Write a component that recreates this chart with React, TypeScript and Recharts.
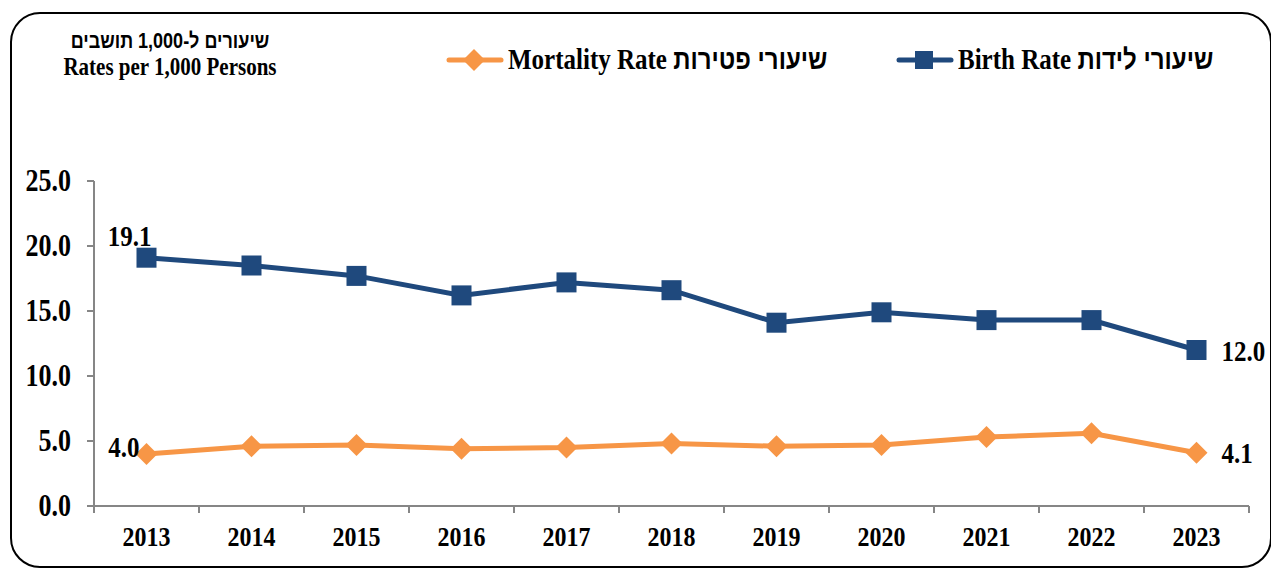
import React from 'react';
import { LineChart, Line, XAxis, YAxis, LabelList } from 'recharts';

const years = ['2013', '2014', '2015', '2016', '2017', '2018', '2019', '2020', '2021', '2022', '2023'];
const birthRate = [19.1, 18.5, 17.7, 16.2, 17.2, 16.6, 14.1, 14.9, 14.3, 14.3, 12.0];
const mortalityRate = [4.0, 4.6, 4.7, 4.4, 4.5, 4.8, 4.6, 4.7, 5.3, 5.6, 4.1];
const yTicks = [0, 5, 10, 15, 20, 25];

const BIRTH_EN = 'Birth Rate';
const BIRTH_HE = 'שיעורי לידות';
const MORT_EN = 'Mortality Rate';
const MORT_HE = 'שיעורי פטירות';
const BLUE = '#1F497D';
const ORANGE = '#F79646';
const AXIS = '#868686';
const FONT = '"Liberation Serif", "Times New Roman", serif';
const HEB_FONT = '"Liberation Sans", "DejaVu Sans", sans-serif';
const SY = 1.18;

const data = years.map((y, i) => ({ year: y, birth: birthRate[i], mortality: mortalityRate[i] }));

const STxt = ({ x, y, size, anchor, children }: any) => (
  <text
    transform={`translate(${x},${y}) scale(1,${SY})`}
    fontFamily={FONT}
    fontWeight="bold"
    fontSize={size}
    fill="#000"
    textAnchor={anchor}
    dominantBaseline="central"
  >
    {children}
  </text>
);

const SquareDot = (props: any) => {
  const { cx, cy } = props;
  if (cx == null || cy == null) return null;
  return <rect x={cx - 10} y={cy - 10} width={20} height={20} fill={BLUE} />;
};

const DiamondDot = (props: any) => {
  const { cx, cy } = props;
  if (cx == null || cy == null) return null;
  const r = 11;
  return <path d={`M${cx},${cy - r} L${cx + r},${cy} L${cx},${cy + r} L${cx - r},${cy} Z`} fill={ORANGE} />;
};

const makeLabel = (series: number[], which: 'first' | 'last', dx: number, dy: number, anchor: string) => (props: any) => {
  const { x, y, index, value } = props;
  const idx = which === 'first' ? 0 : series.length - 1;
  if (index !== idx) return null;
  return (
    <STxt x={x + dx} y={y + dy} size={25} anchor={anchor}>
      {Number(value).toFixed(1)}
    </STxt>
  );
};

const XTick = (props: any) => {
  const { x, y, payload, index, visibleTicksCount, width } = props;
  const off = payload && payload.offset != null ? payload.offset : (width ?? 1155) / (visibleTicksCount ?? 11) / 2;
  const last = index === (visibleTicksCount ?? 11) - 1;
  return (
    <g>
      <line x1={x - off} y1={y} x2={x - off} y2={y + 7} stroke={AXIS} strokeWidth={2} />
      {last && <line x1={x + off} y1={y} x2={x + off} y2={y + 7} stroke={AXIS} strokeWidth={2} />}
      <STxt x={x} y={y + 31} size={24} anchor="middle">
        {payload.value}
      </STxt>
    </g>
  );
};

const YTick = (props: any) => {
  const { x, y, payload } = props;
  return (
    <g>
      <line x1={x - 7} y1={y} x2={x} y2={y} stroke={AXIS} strokeWidth={2} />
      <STxt x={x - 23} y={y} size={26} anchor="end">
        {Number(payload.value).toFixed(1)}
      </STxt>
    </g>
  );
};

const LegendItem = ({ left, color, marker, en, he }: any) => (
  <div style={{ position: 'absolute', left, top: 46, height: 28, display: 'flex', alignItems: 'center' }}>
    <svg width={58} height={24} style={{ display: 'block' }}>
      <line x1={3} y1={12} x2={55} y2={12} stroke={color} strokeWidth={5} strokeLinecap="round" />
      {marker === 'square' ? (
        <rect x={19} y={3} width={18} height={18} fill={color} />
      ) : (
        <path d="M28,1 L39,12 L28,23 L17,12 Z" fill={color} />
      )}
    </svg>
    <span
      style={{
        marginLeft: 4,
        whiteSpace: 'nowrap',
        fontFamily: FONT,
        fontWeight: 'bold',
        fontSize: 25,
        color: '#000',
        display: 'inline-block',
        transform: `scaleY(${SY})`,
        lineHeight: '28px',
      }}
    >
      {en}{' '}
      <span dir="rtl" style={{ fontFamily: HEB_FONT, fontSize: 24 }}>{he}</span>
    </span>
  </div>
);

export default function App() {
  return (
    <div style={{ position: 'fixed', left: 0, top: 0, width: 1271, height: 570, background: '#fff', overflow: 'hidden' }}>
      <div style={{ position: 'absolute', left: 10, top: 12, width: 1262, height: 556, border: '2px solid #000', borderRadius: 30, boxSizing: 'border-box' }} />
      <div
        style={{
          position: 'absolute',
          left: 40,
          top: 28,
          width: 260,
          textAlign: 'center',
          fontWeight: 'bold',
          color: '#000',
        }}
      >
        <div dir="rtl" style={{ fontFamily: HEB_FONT, fontSize: 18, lineHeight: '26px', transform: `scaleY(${SY})` }}>
          שיעורים ל-1,000 תושבים
        </div>
        <div style={{ fontFamily: FONT, fontSize: 21, lineHeight: '26px', transform: `scaleY(${SY})` }}>Rates per 1,000 Persons</div>
      </div>
      <LegendItem left={446} color={ORANGE} marker="diamond" en={MORT_EN} he={MORT_HE} />
      <LegendItem left={896} color={BLUE} marker="square" en={BIRTH_EN} he={BIRTH_HE} />
      <div style={{ position: 'absolute', left: 0, top: 0 }}>
        <LineChart width={1271} height={570} data={data} margin={{ top: 181, right: 22, bottom: 34, left: 34 }}>
          <XAxis
            dataKey="year"
            scale="band"
            height={30}
            stroke={AXIS}
            strokeWidth={2}
            tickLine={false}
            tickSize={0}
            tickMargin={0}
            interval={0}
            tick={<XTick />}
          />
          <YAxis
            width={60}
            domain={[0, 25]}
            ticks={yTicks}
            interval={0}
            stroke={AXIS}
            strokeWidth={2}
            tickLine={false}
            tickSize={0}
            tickMargin={0}
            tick={<YTick />}
          />
          <Line
            name={`${BIRTH_EN} ${BIRTH_HE}`}
            dataKey="birth"
            stroke={BLUE}
            strokeWidth={5}
            dot={<SquareDot />}
            activeDot={false}
            isAnimationActive={false}
          >
            <LabelList dataKey="birth" content={makeLabel(birthRate, 'first', 5, -21, 'end')} />
            <LabelList dataKey="birth" content={makeLabel(birthRate, 'last', 25, 1, 'start')} />
          </Line>
          <Line
            name={`${MORT_EN} ${MORT_HE}`}
            dataKey="mortality"
            stroke={ORANGE}
            strokeWidth={5}
            dot={<DiamondDot />}
            activeDot={false}
            isAnimationActive={false}
          >
            <LabelList dataKey="mortality" content={makeLabel(mortalityRate, 'first', -7, -7, 'end')} />
            <LabelList dataKey="mortality" content={makeLabel(mortalityRate, 'last', 25, 1, 'start')} />
          </Line>
        </LineChart>
      </div>
    </div>
  );
}
